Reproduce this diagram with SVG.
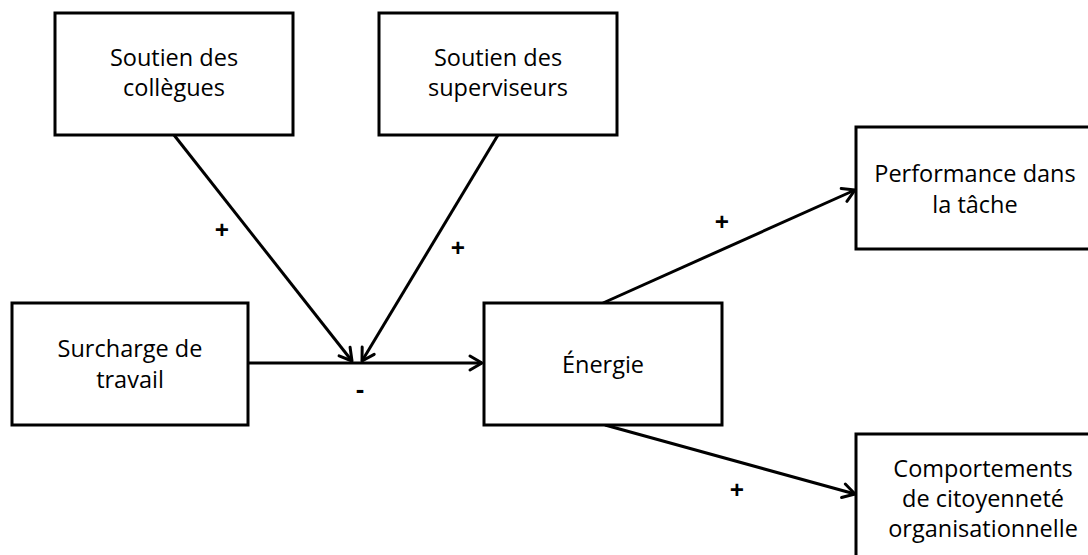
<svg xmlns="http://www.w3.org/2000/svg" width="1088" height="555" viewBox="0 0 1088 555">
  <style>
    .box { fill: #ffffff; stroke: #000000; stroke-width: 3; }
    .lbl { font-family: "Open Sans", "Noto Sans", "Liberation Sans", sans-serif; font-size: 23.5px; fill: #000000; text-anchor: middle; }
    .sign { font-family: "Open Sans", "Noto Sans", "Liberation Sans", sans-serif; font-size: 25px; font-weight: bold; fill: #000000; text-anchor: middle; }
    .edge { stroke: #000000; stroke-width: 3; fill: none; marker-end: url(#arrow); }
  </style>
  <defs>
    <marker id="arrow" markerUnits="userSpaceOnUse" markerWidth="20" markerHeight="20" viewBox="-16 -10 20 20" refX="0" refY="0" orient="auto">
      <path d="M-12,-7 L0,0 L-12,7" fill="none" stroke="#000000" stroke-width="3" stroke-linecap="round" stroke-linejoin="round"/>
    </marker>
  </defs>
  <rect width="1088" height="555" fill="#ffffff"/>

  <g id="connectors">
    <line class="edge" x1="174" y1="135" x2="352" y2="361"/>
    <line class="edge" x1="498" y1="135" x2="362" y2="361"/>
    <line class="edge" x1="248" y1="363" x2="482" y2="363"/>
    <line class="edge" x1="603" y1="303" x2="855" y2="190"/>
    <line class="edge" x1="605" y1="425" x2="855" y2="494"/>
  </g>

  <g id="soutien-collegues">
    <rect class="box" x="55" y="13" width="238" height="122"/>
    <text class="lbl" x="174" y="66">Soutien des</text>
    <text class="lbl" x="174" y="96">collègues</text>
  </g>

  <g id="soutien-superviseurs">
    <rect class="box" x="379" y="13" width="238" height="122"/>
    <text class="lbl" x="498" y="66">Soutien des</text>
    <text class="lbl" x="498" y="96">superviseurs</text>
  </g>

  <g id="surcharge">
    <rect class="box" x="12" y="303" width="236" height="122"/>
    <text class="lbl" x="130" y="357">Surcharge de</text>
    <text class="lbl" x="130" y="388">travail</text>
  </g>

  <g id="energie">
    <rect class="box" x="484" y="303" width="238" height="122"/>
    <text class="lbl" x="603" y="373">Énergie</text>
  </g>

  <g id="performance">
    <rect class="box" x="856" y="127" width="250" height="122"/>
    <text class="lbl" x="975" y="182">Performance dans</text>
    <text class="lbl" x="975" y="213">la tâche</text>
  </g>

  <g id="comportements">
    <rect class="box" x="856" y="434" width="260" height="140"/>
    <text class="lbl" x="983" y="477">Comportements</text>
    <text class="lbl" x="983" y="507">de citoyenneté</text>
    <text class="lbl" x="983" y="537">organisationnelle</text>
  </g>

  <g id="signs">
    <text class="sign" x="222" y="239">+</text>
    <text class="sign" x="458" y="257">+</text>
    <text class="sign" x="360" y="398">-</text>
    <text class="sign" x="722" y="231">+</text>
    <text class="sign" x="737" y="499">+</text>
  </g>
</svg>
